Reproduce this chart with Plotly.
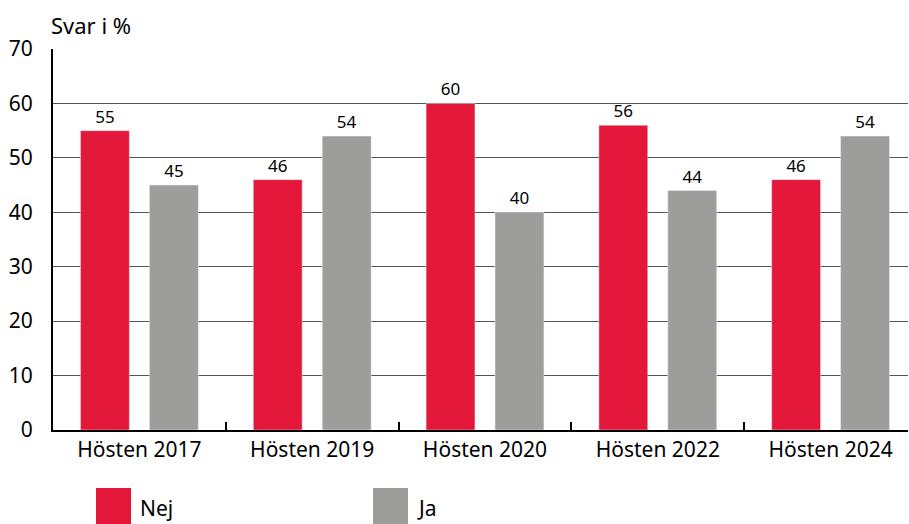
import plotly.graph_objects as go

categories = ["Hösten 2017", "Hösten 2019", "Hösten 2020", "Hösten 2022", "Hösten 2024"]
nej = [55, 46, 60, 56, 46]
ja = [45, 54, 40, 44, 54]
y_ticks = [0, 10, 20, 30, 40, 50, 60, 70]

RED = "#E3173A"
GRAY = "#9D9D9C"
FONT = "Noto Sans"

W, H = 909, 524
L, R, T, B = 53, 1, 49, 94
PL, PT, PB = L, T, H - B
pw, ph = W - L - R, PB - PT

def px_x(p):
    return (p - PL) / pw

def px_y(p):
    return (PB - p) / ph

fig = go.Figure()
fig.add_trace(go.Bar(x=categories, y=nej, name="Nej", marker_color=RED,
                     text=nej, textposition="outside", cliponaxis=False,
                     textfont=dict(size=17, color="black", family=FONT)))
fig.add_trace(go.Bar(x=categories, y=ja, name="Ja", marker_color=GRAY,
                     text=ja, textposition="outside", cliponaxis=False,
                     textfont=dict(size=17, color="black", family=FONT)))

fig.update_layout(
    width=W, height=H,
    margin=dict(l=L, r=R, t=T, b=B, autoexpand=False),
    plot_bgcolor="white", paper_bgcolor="white",
    barmode="group", bargap=0.202, bargroupgap=0.291,
    showlegend=False,
    font=dict(family=FONT, size=20, color="black"),
    xaxis=dict(
        range=[-0.5, 4.448], automargin=False,
        showline=True, linecolor="black", linewidth=2,
        ticks="inside", tickson="boundaries", ticklen=8, tickwidth=2, tickcolor="black",
        showgrid=False, tickfont=dict(size=21),
    ),
    yaxis=dict(
        range=[0, 70], tickvals=y_ticks, automargin=False,
        showline=True, linecolor="black", linewidth=2,
        showgrid=True, gridcolor="#555555", gridwidth=1,
        ticks="", ticklabelstandoff=14, tickfont=dict(size=21),
        zeroline=False,
    ),
)

fig.add_annotation(text="Svar i %", xref="paper", yref="paper",
                   x=px_x(49), y=px_y(25), xanchor="left", yanchor="middle",
                   showarrow=False, font=dict(size=22))

legend_items = [("Nej", RED, 96), ("Ja", GRAY, 373)]
for name, col, x0 in legend_items:
    fig.add_shape(type="rect", xref="paper", yref="paper",
                  x0=px_x(x0), x1=px_x(x0 + 35), y0=px_y(524), y1=px_y(488),
                  fillcolor=col, line=dict(width=0))
    fig.add_annotation(text=name, xref="paper", yref="paper",
                       x=px_x(x0 + 42), y=px_y(508), xanchor="left", yanchor="middle",
                       showarrow=False, font=dict(size=21))

fig.write_html(
    "out.html",
    config={"displayModeBar": False},
    post_script="document.body.style.margin='0';document.body.style.overflow='hidden';",
)
